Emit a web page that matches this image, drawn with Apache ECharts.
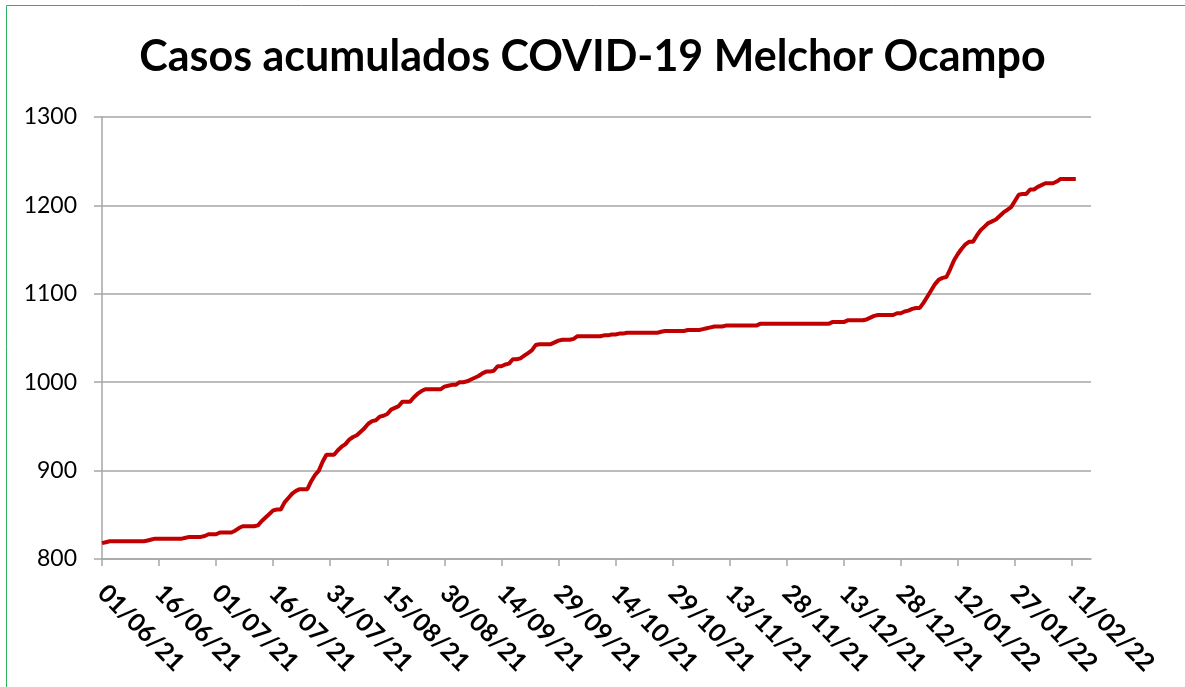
<!DOCTYPE html>
<html>
	<head>
		<meta charset="utf-8" />
		<title>Casos acumulados</title>
		<script src="https://cdn.jsdelivr.net/npm/echarts@6/dist/echarts.min.js"></script>
	</head>
	<body style="margin:0;">
		<div id="chart" style="width:1185px;height:687px;"></div>
	</body>

	<script type="text/javascript">

	// first day of the series and how many days the axis spans
	var startDay = [2021, 5, 1];   // 01/06/21
	var axisDays = 261;            // 01/06/21 .. 16/02/22
	var labelEvery = 15;           // one date label every 15 days
	var lastLabel = 255;           // 11/02/22

	// cumulative cases, one value per day from 01/06/21
	var casos = [
		818, 819, 820, 820, 820, 820, 820, 820, 820, 820,
		820, 820, 821, 822, 823, 823, 823, 823, 823, 823,
		823, 823, 824, 825, 825, 825, 825, 826, 828, 828,
		828, 830, 830, 830, 830, 832, 835, 837, 837, 837,
		837, 838, 843, 847, 851, 855, 856, 856, 864, 869,
		874, 877, 879, 879, 879, 888, 895, 900, 910, 918,
		918, 918, 923, 927, 930, 935, 938, 940, 944, 948,
		953, 956, 957, 961, 962, 964, 969, 971, 973, 978,
		978, 978, 983, 987, 990, 992, 992, 992, 992, 992,
		995, 996, 997, 997, 1000, 1000, 1001, 1003, 1005, 1007,
		1010, 1012, 1012, 1013, 1018, 1018, 1020, 1021, 1026, 1026,
		1027, 1030, 1033, 1036, 1042, 1043, 1043, 1043, 1043, 1045,
		1047, 1048, 1048, 1048, 1049, 1052, 1052, 1052, 1052, 1052,
		1052, 1052, 1053, 1053, 1054, 1054, 1055, 1055, 1056, 1056,
		1056, 1056, 1056, 1056, 1056, 1056, 1056, 1057, 1058, 1058,
		1058, 1058, 1058, 1058, 1059, 1059, 1059, 1059, 1060, 1061,
		1062, 1063, 1063, 1063, 1064, 1064, 1064, 1064, 1064, 1064,
		1064, 1064, 1064, 1066, 1066, 1066, 1066, 1066, 1066, 1066,
		1066, 1066, 1066, 1066, 1066, 1066, 1066, 1066, 1066, 1066,
		1066, 1066, 1068, 1068, 1068, 1068, 1070, 1070, 1070, 1070,
		1070, 1071, 1073, 1075, 1076, 1076, 1076, 1076, 1076, 1078,
		1078, 1080, 1081, 1083, 1084, 1084, 1090, 1097, 1104, 1111,
		1116, 1118, 1119, 1128, 1138, 1145, 1151, 1156, 1159, 1159,
		1166, 1172, 1176, 1180, 1182, 1184, 1188, 1192, 1195, 1198,
		1205, 1212, 1213, 1213, 1218, 1218, 1221, 1223, 1225, 1225,
		1225, 1227, 1230, 1230, 1230, 1230, 1230
	];

	var yMin = 800, yMax = 1300, yStep = 100;

	function dd(n){ return (n < 10 ? '0' : '') + n; }

	var fechas = [];
	for (var i = 0; i < axisDays; i++) {
		var d = new Date(startDay[0], startDay[1], startDay[2] + i);
		fechas.push(dd(d.getDate()) + '/' + dd(d.getMonth() + 1) + '/' + String(d.getFullYear()).slice(2));
	}

	function isTickDay(idx){ return idx % labelEvery === 0 && idx <= lastLabel; }

	var myChart = echarts.init(document.getElementById('chart'));
	var gris = '#a6a6a6';

	option = {
		backgroundColor: '#fff',
		animation: false,
		title: {
			text: 'Casos acumulados COVID-19 Melchor Ocampo',
			left: 'center',
			top: 31,
			textStyle: {
				fontFamily: 'Lato',
				fontWeight: 'bold',
				fontSize: 43,
				color: '#000'
			}
		},
		graphic: [{
			type: 'rect',
			shape: { x: 6.5, y: 5.5, width: 1300, height: 800 },
			style: { fill: 'none', stroke: '#2fb060', lineWidth: 1 }
		}],
		grid: {
			left: 102,
			right: 94,
			top: 117,
			bottom: 128
		},
		xAxis: {
			type: 'category',
			boundaryGap: false,
			data: fechas,
			axisLine: { lineStyle: { color: gris, width: 1.5 } },
			axisTick: {
				interval: isTickDay,
				length: 7,
				lineStyle: { color: gris, width: 1.5 }
			},
			axisLabel: {
				interval: isTickDay,
				rotate: -45,
				margin: 30,
				fontFamily: 'Lato',
				fontWeight: 'bold',
				fontSize: 25,
				color: '#000'
			},
			splitLine: { show: false }
		},
		yAxis: {
			type: 'value',
			min: yMin,
			max: yMax,
			interval: yStep,
			axisLine: { show: true, lineStyle: { color: gris, width: 1.5 } },
			axisTick: { show: true, length: 8, lineStyle: { color: gris, width: 1.5 } },
			axisLabel: {
				margin: 25,
				fontFamily: 'Lato',
				fontSize: 23,
				color: '#000',
				formatter: function (v) { return String(v); }
			},
			splitLine: { lineStyle: { color: gris, width: 1.5 } }
		},
		series: [{
			name: 'Casos',
			type: 'line',
			data: casos,
			showSymbol: false,
			lineStyle: { color: '#c00000', width: 4 },
			itemStyle: { color: '#c00000' }
		}]
	};

	myChart.setOption(option);

	</script>
</html>
